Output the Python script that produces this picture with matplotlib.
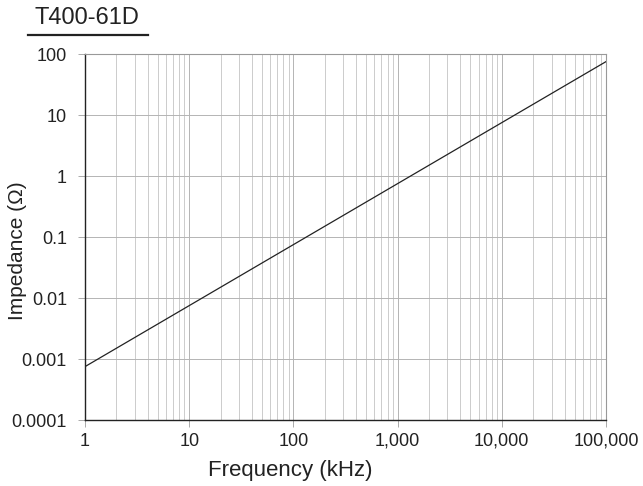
import matplotlib
matplotlib.use("Agg")
import matplotlib.pyplot as plt
from matplotlib.ticker import FixedLocator, FixedFormatter, NullFormatter, LogLocator

plt.rcParams['font.family'] = ['Liberation Sans', 'DejaVu Sans']

freq_khz = [1, 100000]
impedance = [0.00075, 75]
x_ticks = [1, 10, 100, 1000, 10000, 100000]
x_labels = ['1', '10', '100', '1,000', '10,000', '100,000']
y_ticks = [0.0001, 0.001, 0.01, 0.1, 1, 10, 100]
y_labels = ['0.0001', '0.001', '0.01', '0.1', '1', '10', '100']
title = 'T400-61D'

fig = plt.figure(figsize=(6.43, 4.86), dpi=100)
W, H = 643, 486
ax = fig.add_axes([85 / W, 1 - 420 / H, (606 - 85) / W, (420 - 54) / H])
ax.plot(freq_khz, impedance, color='#222222', lw=0.9, zorder=3)
ax.set_xscale('log')
ax.set_yscale('log')
ax.set_xlim(1, 100000)
ax.set_ylim(0.0001, 100)

ax.xaxis.set_major_locator(FixedLocator(x_ticks))
ax.xaxis.set_major_formatter(FixedFormatter(x_labels))
ax.xaxis.set_minor_locator(LogLocator(base=10, subs=range(2, 10), numticks=20))
ax.xaxis.set_minor_formatter(NullFormatter())
ax.yaxis.set_major_locator(FixedLocator(y_ticks))
ax.yaxis.set_major_formatter(FixedFormatter(y_labels))
ax.yaxis.set_minor_locator(FixedLocator([]))

ax.grid(True, which='major', axis='both', color='#b4b4b4', lw=0.7)
ax.grid(True, which='minor', axis='x', color='#cccccc', lw=0.7)
ax.tick_params(axis='both', which='major', length=5, width=0.7, color='#aaaaaa',
               labelsize=13, labelcolor='#222222')
ax.tick_params(axis='x', which='major', pad=4)
ax.tick_params(axis='y', which='major', pad=8)
ax.tick_params(axis='both', which='minor', length=0)

for s in ['top', 'right']:
    ax.spines[s].set_color('#999999')
    ax.spines[s].set_linewidth(0.8)
for s in ['left', 'bottom']:
    ax.spines[s].set_color('#222222')
    ax.spines[s].set_linewidth(1.0)

fig.text(290 / W, 1 - 470 / H, 'Frequency (kHz)', fontsize=16, color='#222222',
         ha='center', va='center')
fig.text(18 / W, 1 - 251 / H, 'Impedance (Ω)', fontsize=15, color='#222222',
         ha='center', va='center', rotation=90)

fig.text(87 / W, 1 - 18 / H, title, fontsize=17, color='#222222', ha='center', va='center')
fig.add_artist(plt.Line2D([28 / W, 148 / W], [1 - 35 / H, 1 - 35 / H],
                          transform=fig.transFigure, color='#222222', lw=1.6))

fig.savefig('out.png', dpi=100)
